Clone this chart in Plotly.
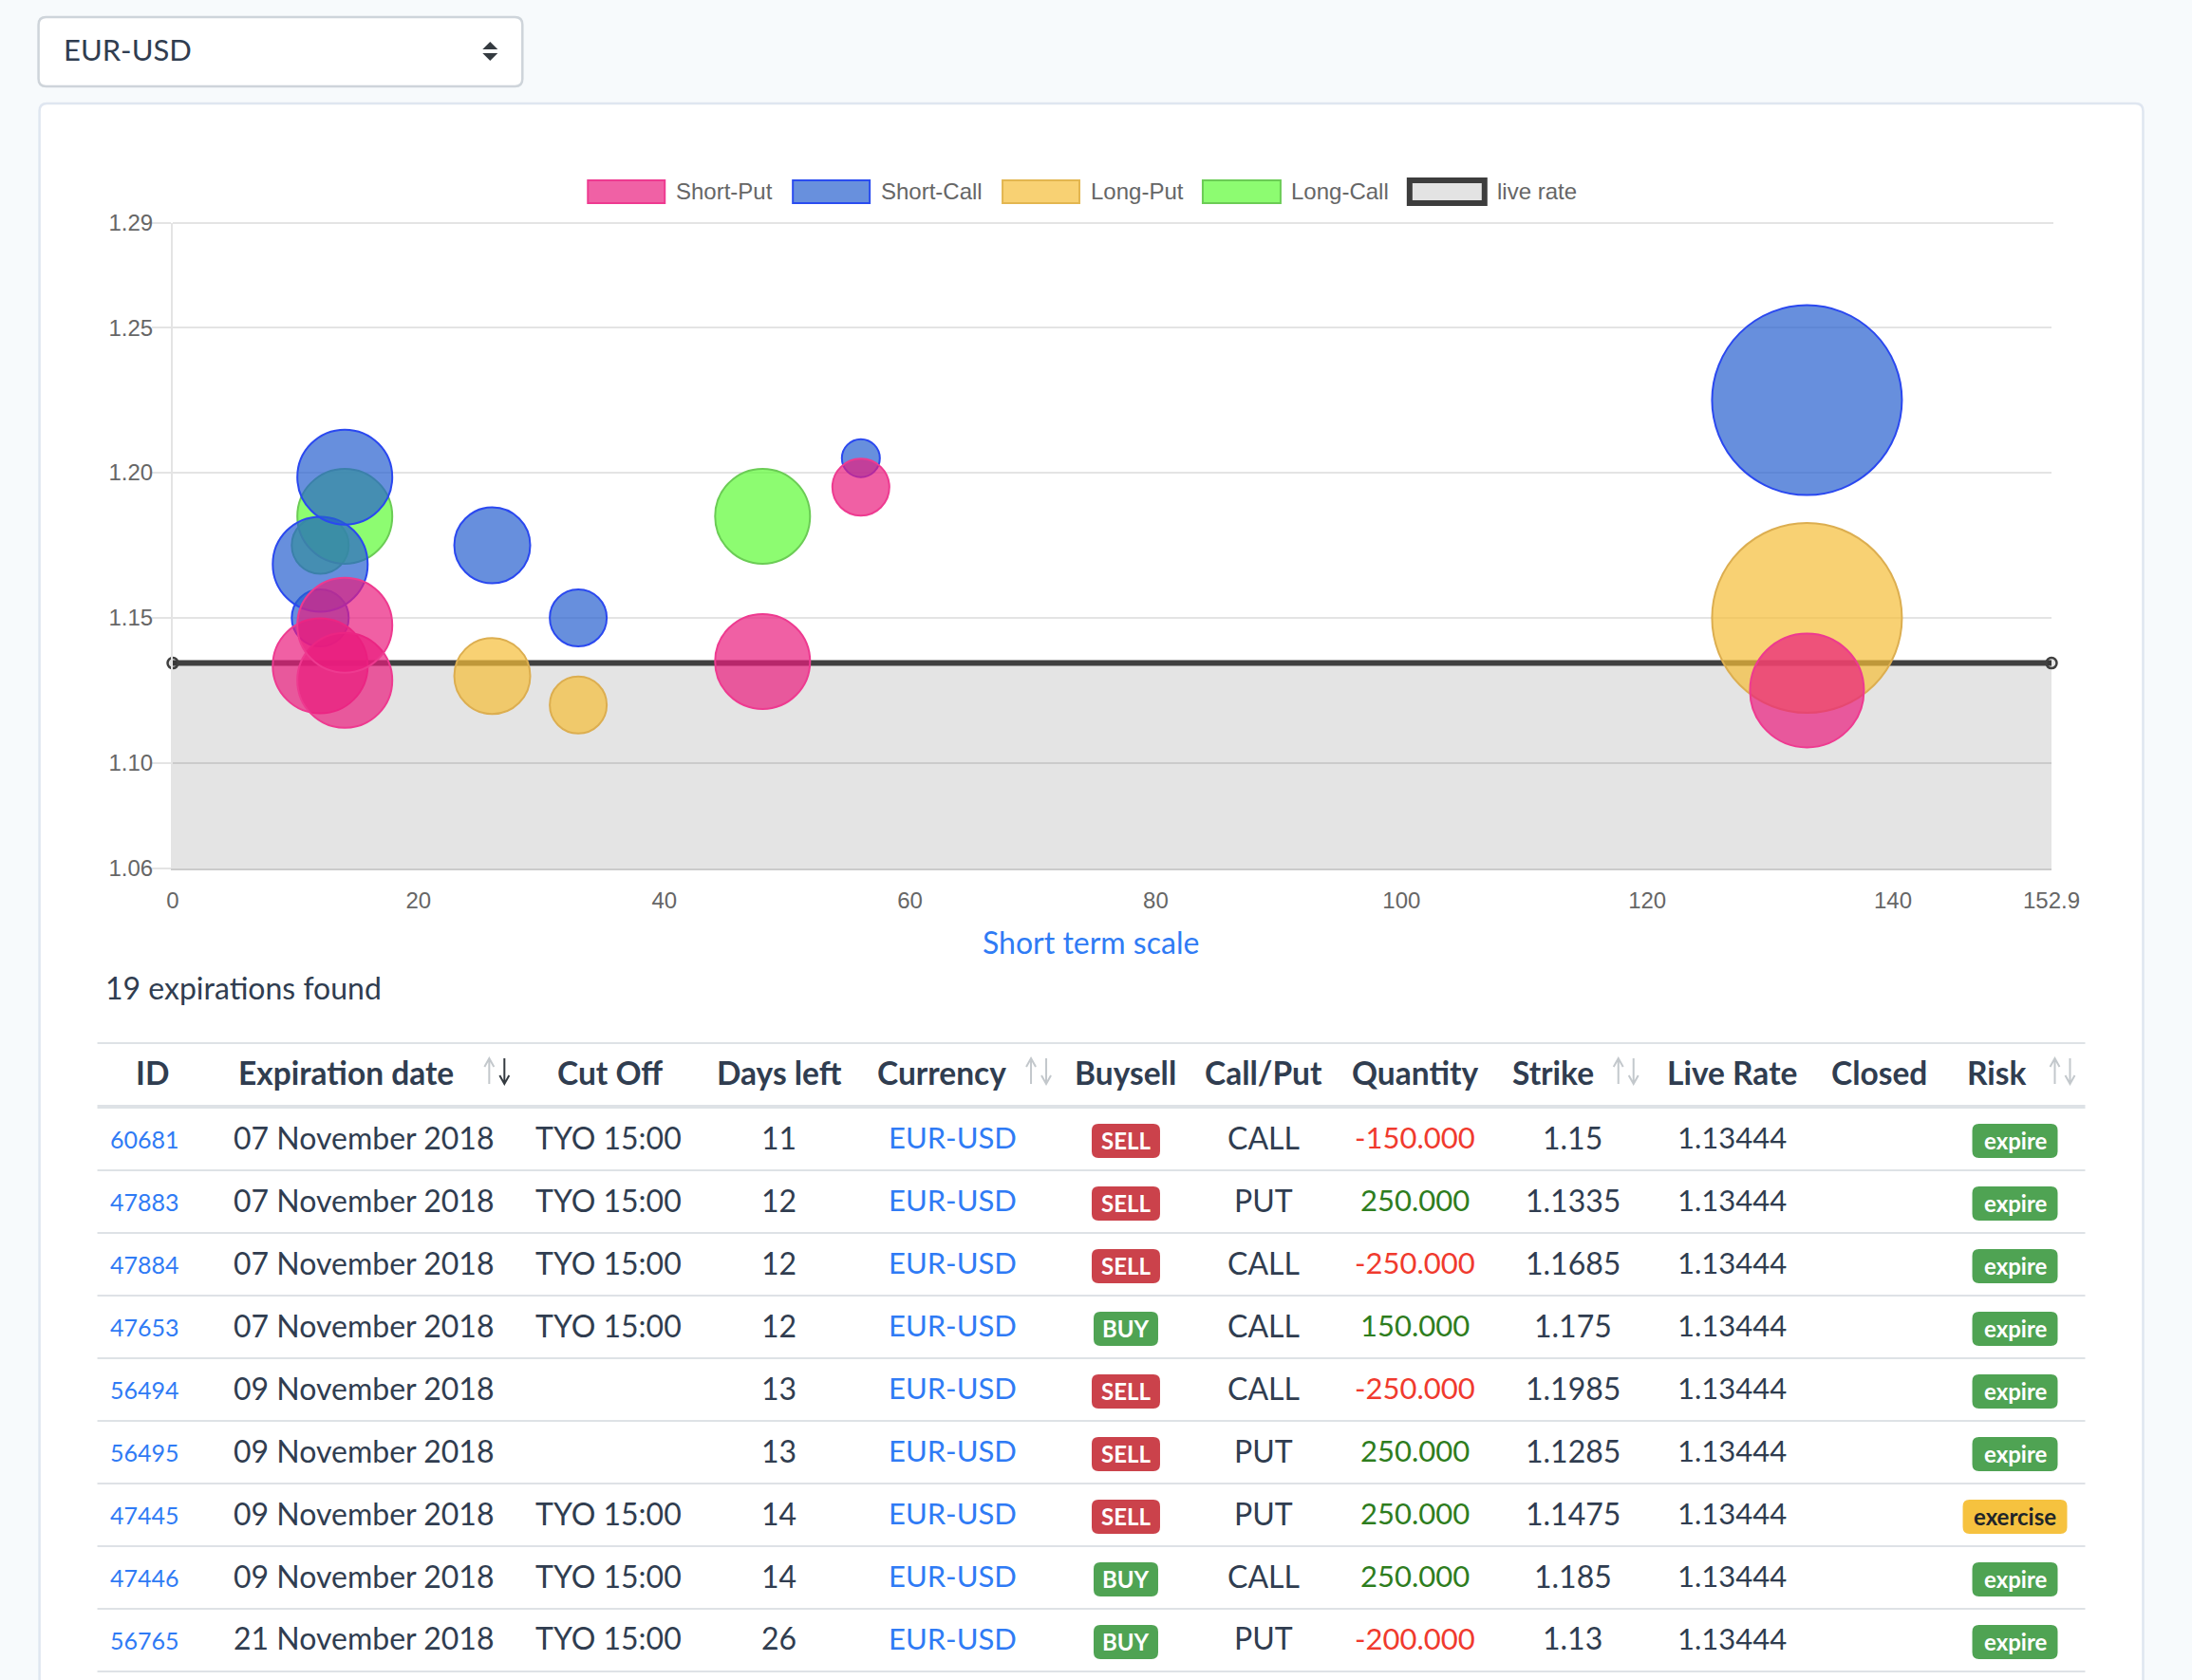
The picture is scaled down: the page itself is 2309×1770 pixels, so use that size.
import plotly.graph_objects as go

# bubbles: days left, strike, quantity
short_put_days = [12, 14, 14, 48, 56, 133]
short_put_strike = [1.1335, 1.1285, 1.1475, 1.135, 1.195, 1.125]
short_put_qty = [250, 250, 250, 250, 150, 300]

short_call_days = [12, 12, 14, 26, 33, 56, 133]
short_call_strike = [1.15, 1.1685, 1.1985, 1.175, 1.15, 1.205, 1.225]
short_call_qty = [150, 250, 250, 200, 150, 100, 500]

long_put_days = [26, 33, 133]
long_put_strike = [1.13, 1.12, 1.15]
long_put_qty = [200, 150, 500]

long_call_days = [12, 14, 48]
long_call_strike = [1.175, 1.185, 1.185]
long_call_qty = [150, 250, 250]

live_rate_days = [0, 152.9]
live_rate_value = [1.13444, 1.13444]

x_ticks = [0, 20, 40, 60, 80, 100, 120, 140, 152.9]
x_tick_text = ["0", "20", "40", "60", "80", "100", "120", "140", "152.9"]
y_ticks = [1.0637, 1.10, 1.15, 1.20, 1.25, 1.286]
y_tick_text = ["1.06", "1.10", "1.15", "1.20", "1.25", "1.29"]

# table rows
table_header = ["ID", "Expiration date", "Cut Off", "Days left", "Currency", "Buysell",
                "Call/Put", "Quantity", "Strike", "Live Rate", "Closed", "Risk"]
row_id = ["60681", "47883", "47884", "47653", "56494", "56495", "47445", "47446", "56765"]
row_date = ["07 November 2018", "07 November 2018", "07 November 2018", "07 November 2018",
            "09 November 2018", "09 November 2018", "09 November 2018", "09 November 2018",
            "21 November 2018"]
row_cutoff = ["TYO 15:00", "TYO 15:00", "TYO 15:00", "TYO 15:00", "", "", "TYO 15:00", "TYO 15:00", "TYO 15:00"]
row_days = ["11", "12", "12", "12", "13", "13", "14", "14", "26"]
row_currency = ["EUR-USD"] * 9
row_buysell = ["SELL", "SELL", "SELL", "BUY", "SELL", "SELL", "SELL", "BUY", "BUY"]
row_callput = ["CALL", "PUT", "CALL", "CALL", "CALL", "PUT", "PUT", "CALL", "PUT"]
row_quantity = ["-150.000", "250.000", "-250.000", "150.000", "-250.000", "250.000", "250.000", "250.000", "-200.000"]
row_strike = ["1.15", "1.1335", "1.1685", "1.175", "1.1985", "1.1285", "1.1475", "1.185", "1.13"]
row_live = ["1.13444"] * 9
row_risk = ["expire", "expire", "expire", "expire", "expire", "expire", "exercise", "expire", "expire"]

WIDTH = 2309
HEIGHT = 1770
PLOT_LEFT = 181.5
PLOT_RIGHT = 2161.5
PLOT_TOP = 235
PLOT_BOTTOM = 915

TEXT_COLOR = "#303d50"
LINK_COLOR = "#2f7bf5"
CHART_TEXT = "#666666"
GRID_COLOR = "#e4e4e4"


def px(x):
    return (x - PLOT_LEFT) / (PLOT_RIGHT - PLOT_LEFT)


def py(y):
    return (PLOT_BOTTOM - y) / (PLOT_BOTTOM - PLOT_TOP)


shapes = []
annotations = []


def label(x, y, text, size=32, color=TEXT_COLOR, anchor="center", family="Lato", weight=None):
    annotations.append(dict(
        x=px(x), y=py(y), xref="paper", yref="paper", text=text, showarrow=False,
        xanchor=anchor, yanchor="middle", borderpad=0, borderwidth=0,
        font=dict(family=family, size=size, color=color, weight=weight),
    ))


def rounded(x0, y0, x1, y1, r, fill, line=None, line_width=0, layer="below"):
    path = "M%f,%f L%f,%f Q%f,%f %f,%f L%f,%f Q%f,%f %f,%f L%f,%f Q%f,%f %f,%f L%f,%f Q%f,%f %f,%f Z" % (
        px(x0 + r), py(y0), px(x1 - r), py(y0), px(x1), py(y0), px(x1), py(y0 + r),
        px(x1), py(y1 - r), px(x1), py(y1), px(x1 - r), py(y1),
        px(x0 + r), py(y1), px(x0), py(y1), px(x0), py(y1 - r),
        px(x0), py(y0 + r), px(x0), py(y0), px(x0 + r), py(y0))
    shapes.append(dict(type="path", path=path, xref="paper", yref="paper", fillcolor=fill,
                       line=dict(color=line if line else fill, width=line_width), layer=layer))


def hline(x0, x1, y, color, width):
    shapes.append(dict(type="line", xref="paper", yref="paper", x0=px(x0), x1=px(x1), y0=py(y), y1=py(y),
                       line=dict(color=color, width=width), layer="below"))


def sort_arrows(x, y0, y1, down_color="#c3c8cc"):
    up = "M%f,%f L%f,%f M%f,%f L%f,%f L%f,%f" % (
        px(x), py(y1), px(x), py(y0), px(x - 5), py(y0 + 9), px(x), py(y0), px(x + 5), py(y0 + 9))
    x2 = x + 16
    down = "M%f,%f L%f,%f M%f,%f L%f,%f L%f,%f" % (
        px(x2), py(y0), px(x2), py(y1), px(x2 - 5), py(y1 - 9), px(x2), py(y1), px(x2 + 5), py(y1 - 9))
    shapes.append(dict(type="path", path=up, xref="paper", yref="paper", line=dict(color="#c3c8cc", width=2), layer="below"))
    shapes.append(dict(type="path", path=down, xref="paper", yref="paper", line=dict(color=down_color, width=2), layer="below"))


# page furniture: dropdown and card
rounded(40, 18, 550, 91, 8, "#ffffff", "#ced4da", 2.5)
label(66, 52, "EUR-USD", size=31, anchor="left")
shapes.append(dict(type="path", xref="paper", yref="paper", fillcolor="#343a40", line=dict(width=0), layer="below",
                   path="M%f,%f L%f,%f L%f,%f Z" % (px(508), py(52), px(524), py(52), px(516), py(44))))
shapes.append(dict(type="path", xref="paper", yref="paper", fillcolor="#343a40", line=dict(width=0), layer="below",
                   path="M%f,%f L%f,%f L%f,%f Z" % (px(508), py(56), px(524), py(56), px(516), py(64))))
rounded(41, 109, 2258, 1800, 8, "#ffffff", "#dfe6f0", 2.5)

# chart legend
legend_items = [
    ("Short-Put", 619, 700, 711.5, "#f061a5", "#ee3a90"),
    ("Short-Call", 835, 916, 928, "#6890dd", "#2a4cf0"),
    ("Long-Put", 1056, 1137, 1148.5, "#f8d173", "#e3b650"),
    ("Long-Call", 1267, 1349, 1360, "#8dfc71", "#6bcc55"),
]
for name, x0, x1, tx, fill, edge in legend_items:
    shapes.append(dict(type="rect", xref="paper", yref="paper", x0=px(x0), x1=px(x1), y0=py(214), y1=py(190),
                       fillcolor=fill, line=dict(color=edge, width=2), layer="below"))
    label(tx, 202, name, size=24, color=CHART_TEXT, anchor="left", family="Liberation Sans")
shapes.append(dict(type="rect", xref="paper", yref="paper", x0=px(1485), x1=px(1564), y0=py(214), y1=py(190),
                   fillcolor="#e3e3e3", line=dict(color="#3d3d3d", width=6), layer="below"))
label(1577, 202, "live rate", size=24, color=CHART_TEXT, anchor="left", family="Liberation Sans")

# top grid line sits on the axis end, plotly skips it
hline(PLOT_LEFT, PLOT_RIGHT + 2, PLOT_TOP, GRID_COLOR, 2)

label(1149, 992, "Short term scale", size=32, color=LINK_COLOR)
label(110, 1040, "19 expirations found", size=32, anchor="left")

# table
header_x = [160, 364, 642, 821, 991.5, 1186, 1331.5, 1491, 1636, 1825, 1980, 2104]
hline(102, 2197, 1099, "#dee2e6", 2)
hline(102, 2197, 1166, "#dee2e6", 4)
for name, x in zip(table_header, header_x):
    label(x, 1129.5, name, size=33.5, weight=700)
sort_arrows(515, 1115, 1142, down_color="#343a40")
sort_arrows(1086, 1115, 1142)
sort_arrows(1705, 1115, 1142)
sort_arrows(2165, 1115, 1142)

for i in range(len(row_id)):
    y = 1198 + 66 * i
    hline(102, 2197, 1233 + 66 * i, "#dee2e6", 2)
    label(151.6, y + 2, row_id[i], size=25, color=LINK_COLOR)
    label(382.6, y, row_date[i])
    if row_cutoff[i]:
        label(641, y, row_cutoff[i])
    label(820, y, row_days[i])
    label(1003, y, row_currency[i], size=31, color=LINK_COLOR)
    badge_fill = "#cb424b" if row_buysell[i] == "SELL" else "#4fa353"
    if row_buysell[i] == "SELL":
        rounded(1150, y - 14, 1222, y + 22, 7, badge_fill)
    else:
        rounded(1152, y - 14, 1220, y + 22, 7, badge_fill)
    label(1186, y + 3, row_buysell[i], size=24, color="#ffffff", weight=700)
    label(1331, y, row_callput[i])
    qty_color = "#f03a2e" if row_quantity[i].startswith("-") else "#2e7d1e"
    label(1491, y, row_quantity[i], size=31, color=qty_color)
    label(1657, y, row_strike[i])
    label(1825, y, row_live[i], size=31)
    if row_risk[i] == "expire":
        rounded(2078, y - 14, 2168, y + 22, 7, "#4fa353")
        label(2123, y + 3, row_risk[i], size=24, color="#ffffff", weight=700)
    else:
        rounded(2068, y - 14, 2178, y + 22, 7, "#f6c23f")
        label(2123, y + 3, row_risk[i], size=24, color="#212529", weight=700)


def bubbles(name, days, strike, qty, fill, edge):
    return go.Scatter(
        name=name, x=days, y=strike, mode="markers", cliponaxis=False,
        marker=dict(size=qty, sizemode="diameter", sizeref=2.5, color=fill, opacity=1,
                    line=dict(color=edge, width=2)),
    )


fig = go.Figure()
fig.add_trace(go.Scatter(
    name="live rate", x=live_rate_days, y=live_rate_value, mode="lines+markers", cliponaxis=False,
    fill="tozeroy", fillcolor="rgba(0,0,0,0.105)",
    line=dict(color="#404040", width=6),
    marker=dict(size=11, color="rgba(0,0,0,0.105)", line=dict(color="#404040", width=2.5)),
))
fig.add_trace(bubbles("Long-Call", long_call_days, long_call_strike, long_call_qty, "rgba(92,251,52,0.7)", "#6bcc55"))
fig.add_trace(bubbles("Long-Put", long_put_days, long_put_strike, long_put_qty, "rgba(245,189,55,0.7)", "#dcae50"))
fig.add_trace(bubbles("Short-Call", short_call_days, short_call_strike, short_call_qty, "rgba(39,96,206,0.7)", "#2a48f0"))
fig.add_trace(bubbles("Short-Put", short_put_days, short_put_strike, short_put_qty, "rgba(234,29,126,0.7)", "#ee3a90"))

fig.update_layout(
    width=WIDTH, height=HEIGHT,
    margin=dict(l=PLOT_LEFT, r=WIDTH - PLOT_RIGHT, t=PLOT_TOP, b=HEIGHT - PLOT_BOTTOM, pad=0, autoexpand=False),
    paper_bgcolor="#f7fafc", plot_bgcolor="rgba(0,0,0,0)",
    showlegend=False,
    shapes=shapes, annotations=annotations,
    font=dict(family="Liberation Sans", size=24, color=CHART_TEXT),
)
fig.update_xaxes(
    range=[0, 152.9], tickmode="array", tickvals=x_ticks, ticktext=x_tick_text,
    showgrid=False, zeroline=False, showline=True, linecolor="#cbcbcb", linewidth=2,
    ticks="outside", ticklen=11, tickcolor="rgba(0,0,0,0)",
    tickfont=dict(family="Liberation Sans", size=24, color=CHART_TEXT),
)
fig.update_yaxes(
    range=[1.0637, 1.286], tickmode="array", tickvals=y_ticks, ticktext=y_tick_text,
    showgrid=True, gridcolor=GRID_COLOR, gridwidth=2, zeroline=False,
    showline=True, linecolor=GRID_COLOR, linewidth=2,
    ticks="outside", ticklen=20, tickcolor=GRID_COLOR, tickwidth=2, ticklabelstandoff=-6,
    tickfont=dict(family="Liberation Sans", size=24, color=CHART_TEXT),
)

fig.write_html("out.html", config={"displayModeBar": False},
               post_script="document.body.style.margin='0';document.body.style.background='#f7fafc';")
